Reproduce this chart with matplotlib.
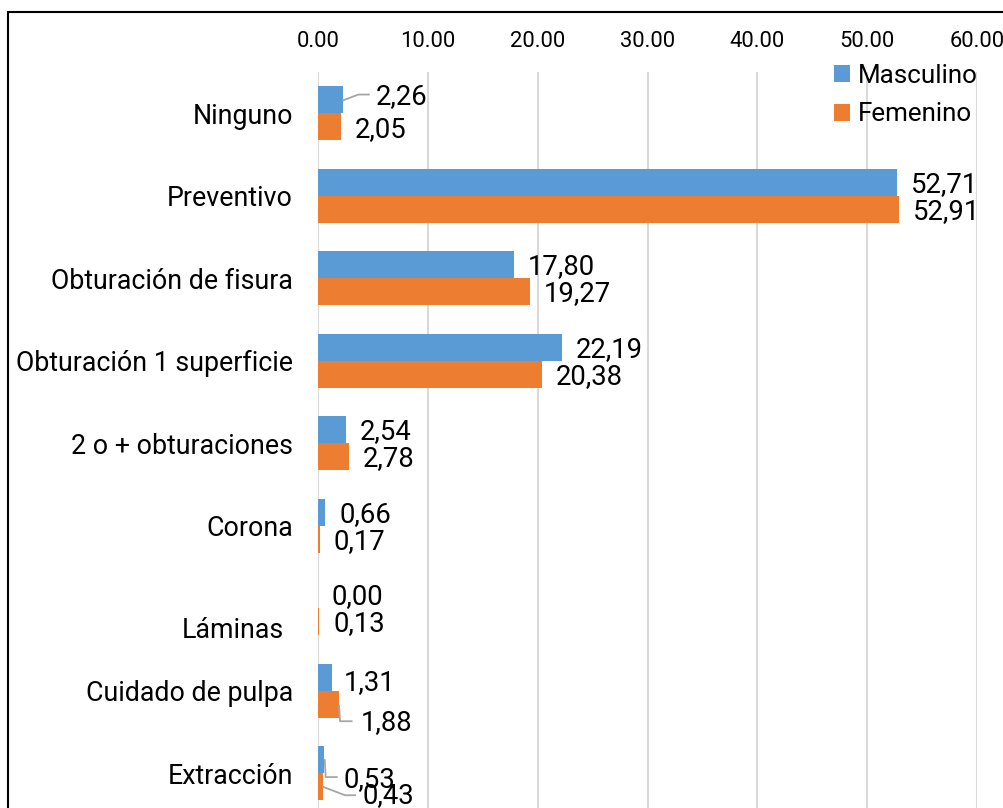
import matplotlib
matplotlib.use('Agg')
import matplotlib.pyplot as plt
import numpy as np
from matplotlib.transforms import ScaledTranslation, IdentityTransform
from matplotlib.lines import Line2D
from matplotlib.patches import Rectangle
from matplotlib.ticker import FormatStrFormatter

categories = ['Ninguno', 'Preventivo', 'Obturación de fisura', 'Obturación 1 superficie',
              '2 o + obturaciones', 'Corona', 'Láminas', 'Cuidado de pulpa', 'Extracción']
masculino = [2.26, 52.71, 17.80, 22.19, 2.54, 0.66, 0.00, 1.31, 0.53]
femenino = [2.05, 52.91, 19.27, 20.38, 2.78, 0.17, 0.13, 1.88, 0.43]
xticks = [0, 10, 20, 30, 40, 50, 60]
series_names = ['Masculino', 'Femenino']

plt.rcParams['font.family'] = ['Roboto', 'DejaVu Sans']

W, H = 1004, 808
fig = plt.figure(figsize=(W / 100, H / 100), dpi=100)
left = 318 / W
right = 977 / W
top = (H - 72) / H
bottom = (H - 814.5) / H
ax = fig.add_axes([left, bottom, right - left, top - bottom])

y = np.arange(len(categories))
h = 0.327
blue = '#5B9BD5'
orange = '#ED7D31'
b1 = ax.barh(y - h / 2, masculino, height=h, color=blue, label=series_names[0], zorder=3)
b2 = ax.barh(y + h / 2, femenino, height=h, color=orange, label=series_names[1], zorder=3)

ax.set_xlim(0, 60)
ax.set_ylim(len(categories) - 0.5, -0.5)
ax.set_xticks(xticks)
ax.xaxis.set_major_formatter(FormatStrFormatter('%.2f'))
ax.xaxis.tick_top()
ax.tick_params(axis='x', length=0, pad=14.5, labelsize=15.8, colors='black')
ax.set_yticks(y)
ax.set_yticklabels(categories)
ax.tick_params(axis='y', length=0, pad=18, labelsize=19.3, colors='black')
for s in ax.spines.values():
    s.set_visible(False)
ax.grid(axis='x', color='#D9D9D9', linewidth=1.5, zorder=0)
ax.set_axisbelow(True)

# Láminas label sits lower in the reference
lbl = ax.get_yticklabels()[6]
lbl.set_transform(lbl.get_transform() + ScaledTranslation(-9 / 100, -19 / 100, fig.dpi_scale_trans))

# data labels: offsets in pixels (dx right, dy down) from bar end / bar centre
default_off = (14, 2)
special = {
    (0, 0): (33, -3),
    (1, 0): (14, 2.5),
    (0, 7): (11, 5.5),
    (1, 7): (22, 18),
    (0, 8): (20, 19.3),
    (1, 8): (40, 9),
}
leaders = {
    (0, 0): [(0.5, 0.5), (15.5, -5.2), (26, -5.2)],
    (1, 7): [(0.4, 1.3), (1.4, 17), (13, 17)],
    (0, 8): [(0.9, 0.3), (1.9, 17.3), (13, 17.3)],
    (1, 8): [(0.6, 0.2), (22.3, 8.5), (32.3, 8.5)],
}

fsz = 19.8
for si, (vals, offs) in enumerate([(masculino, -h / 2), (femenino, h / 2)]):
    for i, v in enumerate(vals):
        dx, dy = special.get((si, i), default_off)
        ax.annotate(f"{v:.2f}".replace('.', ','), xy=(v, i + offs), xytext=(dx, -dy),
                    textcoords='offset pixels', ha='left', va='center', fontsize=fsz,
                    color='black', annotation_clip=False)

fig.canvas.draw()
for (si, i), pts in leaders.items():
    vals = masculino if si == 0 else femenino
    offs = -h / 2 if si == 0 else h / 2
    x0, y0 = ax.transData.transform((vals[i], i + offs))
    xs = [x0 + p[0] for p in pts]
    ys = [y0 - p[1] for p in pts]
    fig.add_artist(Line2D(xs, ys, transform=IdentityTransform(), color='#A6A6A6', linewidth=1.3))

leg = ax.legend(loc='upper left', bbox_to_anchor=(834 / W, (H - 64) / H),
                bbox_transform=fig.transFigure, frameon=False, fontsize=18.7,
                handlelength=0.62, handleheight=0.62, handletextpad=0.3,
                labelspacing=0.55, borderpad=0, borderaxespad=0)

fig.add_artist(Rectangle((8 / W, -0.1), 1.2, (H - 12) / H + 0.1, transform=fig.transFigure,
                         fill=False, edgecolor='black', linewidth=1.5))

fig.savefig('out.png', dpi=100)
